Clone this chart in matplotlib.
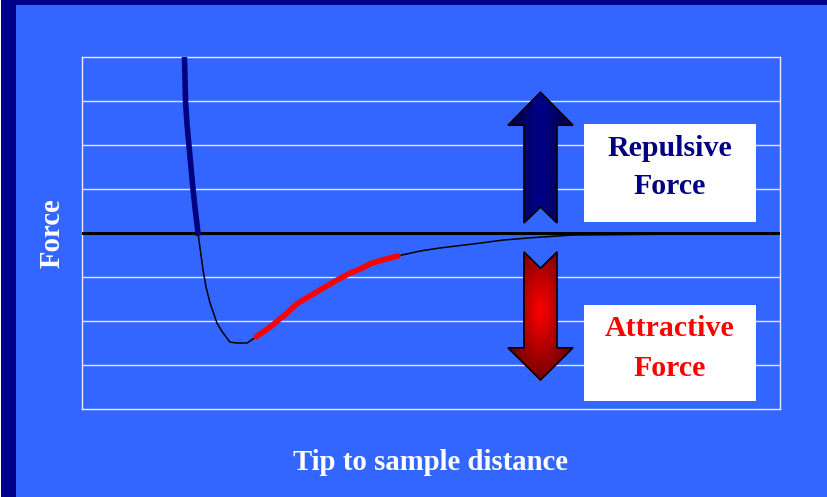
import numpy as np
import matplotlib
matplotlib.use("Agg")
import matplotlib.pyplot as plt
from matplotlib.patches import Polygon, Rectangle

# --- data (x: arbitrary distance units 0-100, y: force units -4..4) ---
repulsive_x = [14.68, 14.76, 14.83, 15.04, 15.33, 15.62, 15.90, 16.26, 16.62]
repulsive_y = [4.0, 3.48, 3.0, 2.48, 1.98, 1.48, 1.0, 0.48, 0.0]

well_x = [16.62, 17.0, 17.34, 17.77, 18.34, 19.34, 20.20, 21.20, 22.21, 23.64, 24.93]
well_y = [0.0, -0.45, -0.84, -1.23, -1.59, -2.05, -2.27, -2.48, -2.50, -2.50, -2.36]

attract_x = [24.93, 26.93, 29.37, 30.95, 33.09, 36.53, 38.40, 40.11, 41.26, 43.12, 45.27]
attract_y = [-2.36, -2.14, -1.82, -1.59, -1.39, -1.07, -0.91, -0.80, -0.70, -0.61, -0.52]

tail_x = [45.27, 48.42, 51.29, 57.02, 60.32, 64.18, 70.34, 81.81]
tail_y = [-0.52, -0.41, -0.34, -0.23, -0.16, -0.11, -0.045, -0.03]

grid_levels = [-3, -2, -1, 1, 2, 3]

BG = "#3366FF"
NAVY = "#000080"
SERIF = "Liberation Serif"

fig = plt.figure(figsize=(8.27, 4.97), dpi=100)
fig.patch.set_facecolor(BG)

# slide frame: navy bars at left and top
fig.patches.append(Rectangle((0, 0), 1 / 827, 1, transform=fig.transFigure,
                             facecolor="white", edgecolor="none"))
fig.patches.append(Rectangle((1 / 827, 0), 15 / 827, 1, transform=fig.transFigure,
                             facecolor="#000088", edgecolor="none"))
fig.patches.append(Rectangle((1 / 827, 1 - 5 / 497), 1, 5 / 497, transform=fig.transFigure,
                             facecolor="#000088", edgecolor="none"))

ax = fig.add_axes([82 / 827, (497 - 409) / 497, 698 / 827, 352 / 497])
ax.set_facecolor(BG)
ax.set_xlim(0, 100)
ax.set_ylim(-4, 4)
ax.set_xticks([])
ax.set_yticks([])
for s in ax.spines.values():
    s.set_color("#E8EEFF")
    s.set_linewidth(1.0)

for g in grid_levels:
    ax.axhline(g, color="#DDE4FF", lw=1.0, zorder=1)
ax.axhline(0, color="black", lw=2.2, zorder=3)

# curve pieces
ax.plot(well_x, well_y, color="black", lw=1.1, zorder=4)
ax.plot(tail_x, tail_y, color="black", lw=1.1, zorder=4)
ax.plot(attract_x, attract_y, color="#FF0000", lw=4, solid_capstyle="round", zorder=5)
ax.plot(repulsive_x, repulsive_y, color=NAVY, lw=4, zorder=5)


def gradient_arrow(ax, pts, img, extent):
    poly = Polygon(pts, closed=True, facecolor="none", edgecolor="black", lw=1.2, zorder=7)
    ax.add_patch(poly)
    im = ax.imshow(img, extent=extent, aspect="auto", origin="lower", zorder=6,
                   interpolation="bilinear")
    im.set_clip_path(poly)


x0, x1, s0, s1, xc = 61.03, 70.34, 63.32, 68.05, 65.69
up_pts = [(xc, 3.20), (x1, 2.45), (s1, 2.45), (s1, 0.227), (xc, 0.59),
          (s0, 0.227), (s0, 2.45), (x0, 2.45)]
down_pts = [(s0, -0.43), (xc, -0.80), (s1, -0.43), (s1, -2.61), (x1, -2.61),
            (xc, -3.34), (x0, -2.61), (s0, -2.61)]

nx, ny = 60, 120
gx = np.linspace(-1, 1, nx)
gy = np.linspace(-1, 1, ny)
GX, GY = np.meshgrid(gx, gy)

# navy gradient, lighter in the middle
t = np.clip(1 - np.abs(GX), 0, 1)
up_img = np.zeros((ny, nx, 3))
up_img[..., 2] = 0.24 + 0.30 * t
gradient_arrow(ax, up_pts, up_img, [x0, x1, 0.2, 3.22])

# red radial gradient, bright in the centre
r = np.clip(np.sqrt(GX ** 2 + ((GY - 0.1) * 0.9) ** 2), 0, 1)
down_img = np.zeros((ny, nx, 3))
down_img[..., 0] = 1.0 - 0.55 * r
gradient_arrow(ax, down_pts, down_img, [x0, x1, -3.36, -0.41])

# label boxes
ax.add_patch(Rectangle((71.92, 0.25), 24.64, 2.23, facecolor="white", edgecolor="none", zorder=6))
ax.add_patch(Rectangle((71.92, -3.82), 24.64, 2.18, facecolor="white", edgecolor="none", zorder=6))

txt = dict(family=SERIF, fontweight="bold", fontsize=21.5, ha="center", va="center", zorder=8)
ax.text(84.24, 1.93, "Repulsive", color=NAVY, **txt)
ax.text(84.24, 1.05, "Force", color=NAVY, **txt)
ax.text(84.24, -2.16, "Attractive", color="#FF0000", **txt)
ax.text(84.24, -3.07, "Force", color="#FF0000", **txt)

fig.text(430 / 827, 1 - 462 / 497, "Tip to sample distance", color="white",
         family=SERIF, fontweight="bold", fontsize=20.7, ha="center", va="center")
fig.text(52 / 827, 1 - 233 / 497, "Force", color="white", rotation=90,
         family=SERIF, fontweight="bold", fontsize=20.7, ha="center", va="center")

fig.savefig("out.png", dpi=100, facecolor=fig.get_facecolor())
